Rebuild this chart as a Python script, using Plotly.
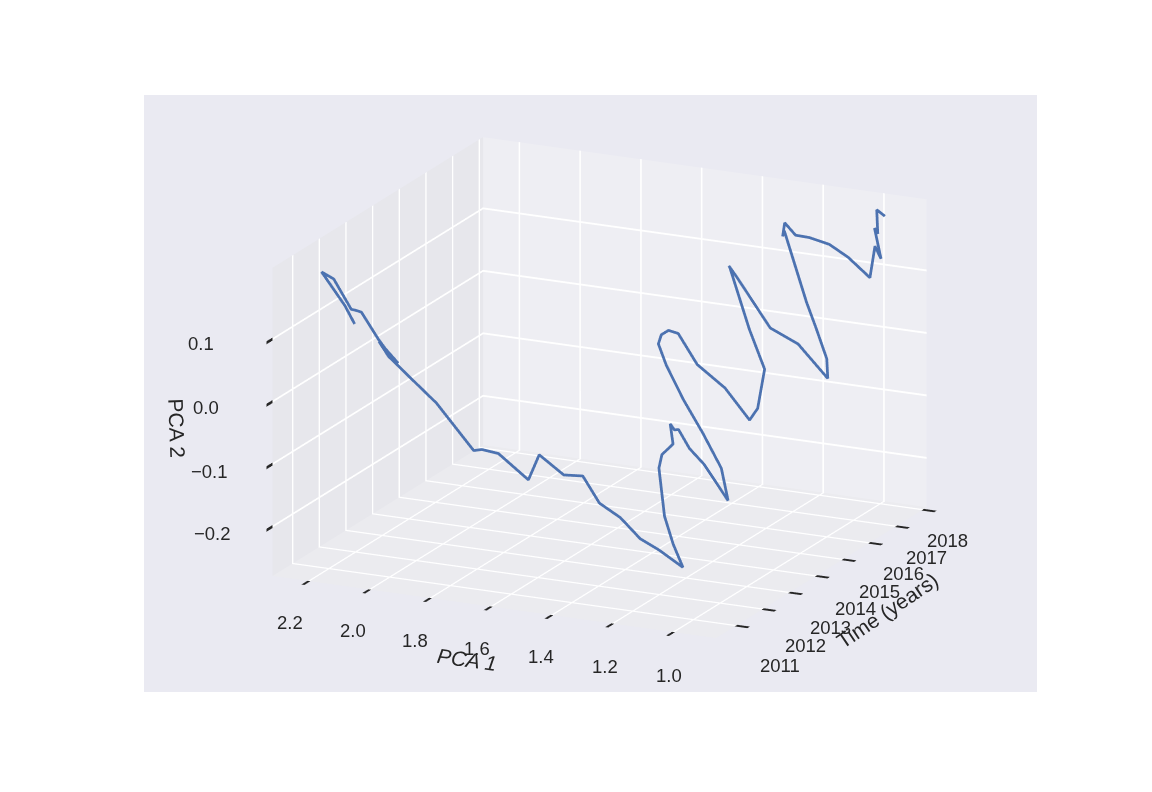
import numpy as np
import plotly.graph_objects as go

time_years = [2010.30, 2010.40, 2010.51, 2010.62, 2010.72, 2010.83, 2010.93, 2011.04, 2011.15, 2011.25,
              2011.36, 2011.46, 2011.57, 2011.68, 2011.78, 2011.89, 2011.99, 2012.10, 2012.21, 2012.31,
              2012.42, 2012.52, 2012.63, 2012.74, 2012.84, 2012.95, 2013.05, 2013.16, 2013.27, 2013.37,
              2013.48, 2013.59, 2013.69, 2013.80, 2013.90, 2014.01, 2014.12, 2014.22, 2014.33, 2014.43,
              2014.54, 2014.65, 2014.75, 2014.86, 2014.96, 2015.07, 2015.18, 2015.28, 2015.39, 2015.49,
              2015.60, 2015.71, 2015.81, 2015.92, 2016.02, 2016.13, 2016.24, 2016.34, 2016.45, 2016.55,
              2016.66, 2016.77, 2016.87, 2016.98, 2017.08, 2017.19, 2017.30, 2017.40, 2017.51, 2017.61,
              2017.72, 2017.83, 2017.93, 2018.04]
pca1 = [2.054, 2.095, 2.181, 2.151, 2.102, 2.098, 2.087, 2.041, 2.008, 1.994,
        2.067, 2.044, 1.994, 1.906, 1.792, 1.775, 1.729, 1.640, 1.614, 1.542,
        1.489, 1.443, 1.384, 1.328, 1.275, 1.206, 1.247, 1.285, 1.313, 1.312,
        1.285, 1.304, 1.299, 1.295, 1.268, 1.229, 1.160, 1.191, 1.261, 1.335,
        1.401, 1.436, 1.435, 1.421, 1.398, 1.345, 1.263, 1.191, 1.174, 1.160,
        1.220, 1.294, 1.306, 1.289, 1.188, 1.106, 1.018, 1.030, 1.074, 1.115,
        1.198, 1.213, 1.215, 1.189, 1.152, 1.096, 1.044, 0.981, 0.974, 0.963,
        0.994, 0.993, 1.005, 0.988]
pca2 = [0.141, 0.165, 0.210, 0.198, 0.150, 0.146, 0.141, 0.098, 0.069, 0.057,
        0.084, 0.059, 0.031, -0.012, -0.083, -0.083, -0.089, -0.128, -0.089, -0.119,
        -0.120, -0.163, -0.185, -0.218, -0.235, -0.261, -0.229, -0.190, -0.118, -0.099,
        -0.083, -0.055, -0.067, -0.069, -0.100, -0.126, -0.182, -0.135, -0.087, -0.040,
        0.008, 0.036, 0.048, 0.053, 0.047, -0.002, -0.037, -0.086, -0.069, -0.008,
        0.049, 0.140, 0.139, 0.119, 0.042, 0.019, -0.033, -0.005, 0.037, 0.074,
        0.180, 0.167, 0.186, 0.165, 0.161, 0.151, 0.131, 0.100, 0.148, 0.126,
        0.170, 0.158, 0.193, 0.181]

year_ticks = [2011, 2012, 2013, 2014, 2015, 2016, 2017, 2018]
pca1_ticks = [2.2, 2.0, 1.8, 1.6, 1.4, 1.2, 1.0]
pca2_ticks = [0.1, 0.0, -0.1, -0.2]

x_range = [2010.25, 2018.15]
y_range = [0.86, 2.32]
z_range = [-0.279, 0.214]

# pixel offsets of the labels from their tick, the tick labels are placed by hand to sit as far out as the original
year_shift = [(44, -40), (43, -36), (41, -35), (39, -33), (37, -32), (34, -31), (30, -31), (25, -31)]
pca1_shift = [(-19, -41), (-17, -41), (-15, -42), (-14, -42), (-11, -41), (-8, -43), (-4, -43)]
pca2_shift = [(-71, -4), (-66, -6), (-63, -7), (-60, -7)]

tick_font = dict(family="Liberation Sans", size=18.5, color="#262626")
title_font = dict(family="Liberation Sans", size=21, color="#262626")


def fmt(v):
    return f"{v:.1f}".replace("-", "\u2212")


annotations = []
for year, (dx, dy) in zip(year_ticks, year_shift):
    annotations.append(dict(x=year, y=y_range[0], z=z_range[0], text=str(year), showarrow=False,
                            xshift=dx, yshift=dy, font=tick_font))
for val, (dx, dy) in zip(pca1_ticks, pca1_shift):
    annotations.append(dict(x=x_range[0], y=val, z=z_range[0], text=fmt(val), showarrow=False,
                            xshift=dx, yshift=dy, font=tick_font))
for val, (dx, dy) in zip(pca2_ticks, pca2_shift):
    annotations.append(dict(x=x_range[0], y=y_range[1], z=val, text=fmt(val), showarrow=False,
                            xshift=dx, yshift=dy, font=tick_font))
# axis titles
annotations.append(dict(x=2014.2, y=y_range[0], z=z_range[0], text="Time (years)", showarrow=False,
                        xshift=66, yshift=-38, textangle=-34, font=title_font))
annotations.append(dict(x=x_range[0], y=1.59, z=z_range[0], text="<i>PCA 1</i>", showarrow=False,
                        xshift=-27, yshift=-53, textangle=8, font=title_font))
annotations.append(dict(x=x_range[0], y=y_range[1], z=-0.0325, text="PCA 2", showarrow=False,
                        xshift=-96, yshift=-7, textangle=88, font=title_font))

fig = go.Figure()
fig.add_trace(go.Scatter3d(x=time_years, y=pca1, z=pca2, mode="lines",
                           line=dict(color="#4C72B0", width=5.5), hoverinfo="skip"))

axis_style = dict(showgrid=True, gridcolor="white", gridwidth=4, zeroline=False, showline=False,
                  showspikes=False, ticks="outside", ticklen=14, tickcolor="#262626", tickwidth=6,
                  showticklabels=False, title=dict(text=""), showbackground=True)
a = np.radians(23.9)
el = np.radians(16.2)
r = 1.207
fig.update_layout(
    width=1136, height=776, margin=dict(l=0, r=0, t=0, b=0), showlegend=False,
    paper_bgcolor="white",
    scene=dict(
        domain=dict(x=[136 / 1136, 1029 / 1136], y=[1 - 684 / 776, 1 - 87 / 776]),
        bgcolor="#EAEAF2",
        aspectmode="manual", aspectratio=dict(x=1.645, y=1.645, z=1.08),
        xaxis=dict(range=x_range, tickvals=year_ticks, backgroundcolor="#EEEEF3", **axis_style),
        yaxis=dict(range=y_range, tickvals=pca1_ticks, backgroundcolor="#E7E7EC", **axis_style),
        zaxis=dict(range=z_range, tickvals=pca2_ticks, backgroundcolor="#EBEBEF", **axis_style),
        camera=dict(projection=dict(type="orthographic"),
                    center=dict(x=-0.0174, y=0.0254, z=-0.0194),
                    eye=dict(x=-r * np.cos(el) * np.cos(a), y=-r * np.cos(el) * np.sin(a), z=r * np.sin(el))),
        annotations=annotations,
    ),
)
fig.write_html("out.html")
